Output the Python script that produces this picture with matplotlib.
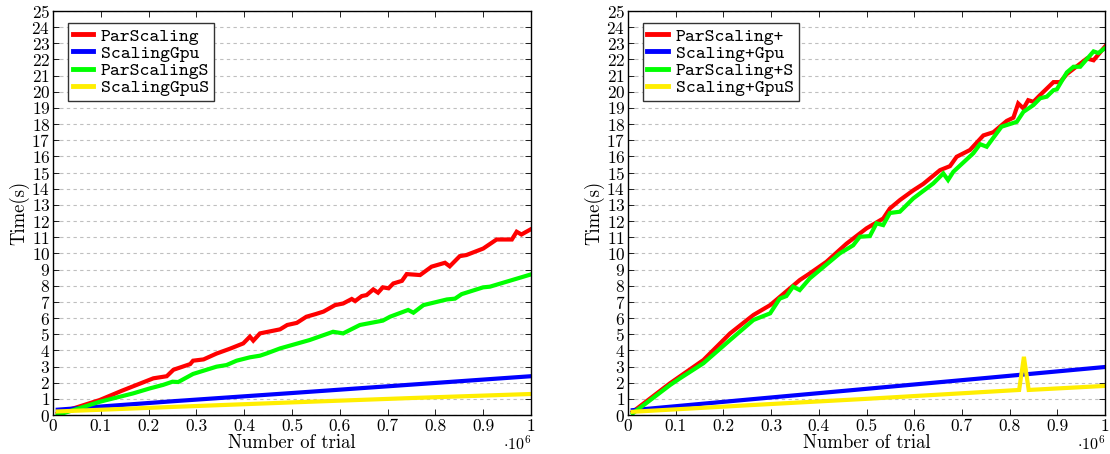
import matplotlib
matplotlib.use('agg')
import matplotlib.pyplot as plt
from matplotlib.ticker import FuncFormatter, MultipleLocator

plt.rcParams['font.family'] = ['cmr10', 'DejaVu Serif']
plt.rcParams['mathtext.fontset'] = 'cm'
plt.rcParams['axes.formatter.use_mathtext'] = True

# ---- left chart data (x = number of trials) ----
l_par_x = [10000, 98000, 144000, 210000, 238000, 252000, 287000, 293000, 315000, 342000,
           370000, 398000, 412000, 419000, 433000, 475000, 490000, 510000, 530000, 550000,
           566000, 590000, 607000, 625000, 632000, 646000, 656000, 670000, 680000, 690000,
           702000, 712000, 730000, 740000, 768000, 792000, 820000, 830000, 851000, 865000,
           900000, 928000, 960000, 970000, 980000, 1000000]
l_par_y = [0.1, 0.93, 1.5, 2.27, 2.4, 2.8, 3.15, 3.36, 3.44, 3.8,
           4.1, 4.43, 4.85, 4.6, 5.05, 5.3, 5.57, 5.7, 6.08, 6.25,
           6.4, 6.8, 6.9, 7.18, 7.05, 7.36, 7.42, 7.77, 7.57, 7.9,
           7.84, 8.14, 8.3, 8.72, 8.66, 9.18, 9.42, 9.2, 9.83, 9.9,
           10.3, 10.86, 10.86, 11.34, 11.17, 11.5]

l_pars_x = [10000, 98000, 168000, 203000, 230000, 250000, 262000, 293000, 342000, 363000,
            384000, 412000, 433000, 447000, 475000, 537000, 586000, 607000, 642000, 690000,
            705000, 743000, 754000, 775000, 796000, 824000, 841000, 855000, 900000, 914000,
            1000000]
l_pars_y = [0.0, 0.82, 1.34, 1.65, 1.86, 2.06, 2.04, 2.54, 2.99, 3.09,
            3.36, 3.57, 3.67, 3.81, 4.12, 4.64, 5.15, 5.05, 5.57, 5.84,
            6.08, 6.5, 6.33, 6.8, 6.95, 7.15, 7.2, 7.48, 7.9, 7.94,
            8.7]

l_gpu_x = [10000, 250000, 500000, 750000, 1000000]
l_gpu_y = [0.33, 0.85, 1.36, 1.88, 2.4]

l_gpus_x = [10000, 250000, 500000, 750000, 1000000]
l_gpus_y = [0.22, 0.5, 0.78, 1.05, 1.3]

# ---- right chart data ----
r_par_x = [10000, 88000, 158000, 214000, 263000, 298000, 318000, 360000, 381000, 416000,
           458000, 500000, 535000, 549000, 570000, 598000, 619000, 654000, 675000, 689000,
           717000, 745000, 766000, 794000, 808000, 818000, 829000, 839000, 850000, 864000,
           892000, 906000, 920000, 962000, 976000, 1000000]
r_par_y = [0.2, 1.96, 3.4, 5.05, 6.19, 6.8, 7.3, 8.35, 8.76, 9.48,
           10.6, 11.55, 12.16, 12.78, 13.3, 13.9, 14.3, 15.15, 15.4, 15.98,
           16.4, 17.3, 17.5, 18.2, 18.4, 19.28, 18.97, 19.48, 19.38, 19.8,
           20.6, 20.6, 21.1, 22.06, 21.95, 22.8]

r_pars_x = [10000, 88000, 109000, 158000, 214000, 263000, 298000, 318000, 332000, 346000,
            360000, 381000, 444000, 472000, 486000, 507000, 521000, 535000, 549000, 570000,
            598000, 640000, 661000, 671000, 682000, 724000, 738000, 752000, 783000, 815000,
            829000, 850000, 864000, 878000, 892000, 899000, 920000, 934000, 948000, 976000,
            986000, 1000000]
r_pars_y = [0.1, 1.85, 2.27, 3.2, 4.64, 5.88, 6.29, 7.2, 7.36, 7.94,
            7.73, 8.45, 10.0, 10.5, 11.03, 11.07, 11.86, 11.75, 12.5, 12.58,
            13.4, 14.33, 14.95, 14.54, 15.05, 16.2, 16.76, 16.6, 17.84, 18.14,
            18.76, 19.18, 19.6, 19.7, 20.1, 20.15, 21.2, 21.55, 21.55, 22.5,
            22.4, 22.7]

r_gpu_x = [10000, 250000, 500000, 750000, 1000000]
r_gpu_y = [0.3, 0.95, 1.62, 2.29, 2.97]

r_gpus_x = [10000, 250000, 500000, 820000, 830000, 840000, 1000000]
r_gpus_y = [0.2, 0.6, 1.0, 1.55, 3.6, 1.55, 1.8]

colors = ['#ff0000', '#0000ff', '#00ff00', '#ffee00']
left_labels = ['ParScaling', 'ScalingGpu', 'ParScalingS', 'ScalingGpuS']
right_labels = ['ParScaling+', 'Scaling+Gpu', 'ParScaling+S', 'Scaling+GpuS']

fig = plt.figure(figsize=(11.1, 4.54), dpi=100)
ax1 = fig.add_axes([53/1110, 1-415/454, 478/1110, 404/454])
ax2 = fig.add_axes([628/1110, 1-415/454, 477/1110, 404/454])

def draw(ax, series, labels):
    for (x, y), c, lab in zip(series, colors, labels):
        ax.plot(x, y, color=c, lw=3, label=lab, solid_joinstyle='miter')
    ax.set_xlim(0, 1000000)
    ax.set_ylim(0, 25)
    ax.xaxis.set_major_locator(MultipleLocator(100000))
    ax.xaxis.set_major_formatter(FuncFormatter(lambda v, p: '%g' % round(v / 1e6, 2)))
    ax.yaxis.set_major_locator(MultipleLocator(1))
    ax.tick_params(direction='in', top=True, right=True, length=4, width=0.6,
                   labelsize=12.5)
    ax.tick_params(axis='x', pad=3)
    ax.tick_params(axis='y', pad=2)
    ax.grid(axis='y', color='#bfbfbf', linestyle=(0, (3, 3)), linewidth=0.8)
    ax.set_axisbelow(True)
    for s in ax.spines.values():
        s.set_linewidth(1.0)
    ax.set_xlabel('Number of trial', fontsize=13.5, labelpad=0)
    ax.set_ylabel('Time(s)', fontsize=13.5, labelpad=1)
    ax.text(1.0, -0.047, r'$\cdot 10^{6}$', transform=ax.transAxes, ha='right',
            va='top', fontsize=11.5)
    leg = ax.legend(loc='upper left', bbox_to_anchor=(0.031, 0.97), fancybox=False,
                    framealpha=1, edgecolor='#333333', handlelength=1.1,
                    handletextpad=0.4, labelspacing=0.0, borderpad=0.25,
                    borderaxespad=0, prop={'family': 'cmtt10', 'size': 13.5})
    leg.get_frame().set_linewidth(1.0)
    for h in leg.get_lines():
        h.set_linewidth(3.5)

draw(ax1, [(l_par_x, l_par_y), (l_gpu_x, l_gpu_y), (l_pars_x, l_pars_y), (l_gpus_x, l_gpus_y)],
     left_labels)
draw(ax2, [(r_par_x, r_par_y), (r_gpu_x, r_gpu_y), (r_pars_x, r_pars_y), (r_gpus_x, r_gpus_y)],
     right_labels)

fig.savefig('out.png', dpi=100)
